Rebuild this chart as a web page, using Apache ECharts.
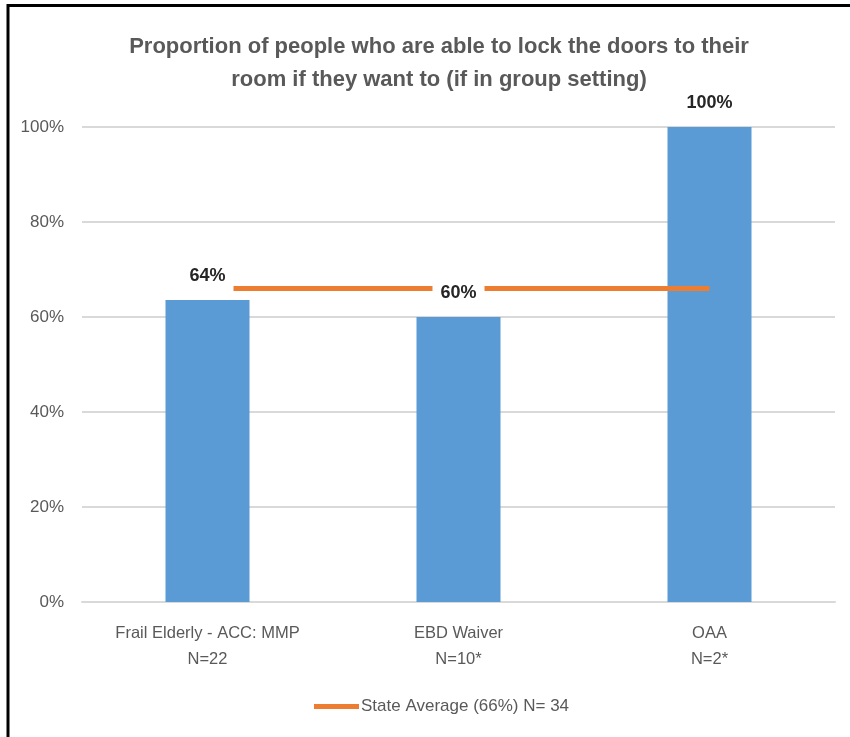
<!DOCTYPE html>
<html>
<head>
<meta charset="utf-8">
<script src="https://cdn.jsdelivr.net/npm/echarts@6/dist/echarts.min.js"></script>
<style>html,body{margin:0;padding:0;background:#fff;}#c{width:850px;height:737px;}</style>
</head>
<body>
<div id="c"></div>
<script>
const categories = ['Frail Elderly - ACC: MMP', 'EBD Waiver', 'OAA'];
const sampleSizes = ['N=22', 'N=10*', 'N=2*'];
const barValues = [63.6, 60, 100];
const stateAverage = [66, 66, 66];
const stateAverageName = 'State Average (66%) N= 34';
const titleText = 'Proportion of people who are able to lock the doors to their\nroom if they want to (if in group setting)';

const FONT = '"Liberation Sans", sans-serif';
const chart = echarts.init(document.getElementById('c'));
chart.setOption({
  animation: false,
  backgroundColor: '#fff',
  title: {
    text: titleText,
    left: 434, top: 25, textAlign: 'center',
    textStyle: { fontFamily: FONT, fontSize: 22, fontWeight: 'bold', color: '#595959', lineHeight: 33 }
  },
  legend: {
    data: [stateAverageName],
    bottom: 17, left: 309,
    icon: 'rect', itemWidth: 45, itemHeight: 5, itemGap: 2,
    textStyle: { fontFamily: FONT, fontSize: 17, color: '#595959', padding: [0, 0, 0, -3] }
  },
  grid: { left: 82, right: 15, top: 127, bottom: 135 },
  xAxis: {
    type: 'category',
    data: categories.map((c, i) => c + '\n' + sampleSizes[i]),
    axisLine: { lineStyle: { color: '#d9d9d9', width: 2 } },
    axisTick: { show: false },
    axisLabel: { fontFamily: FONT, fontSize: 16.5, color: '#595959', lineHeight: 26, margin: 18 }
  },
  yAxis: {
    type: 'value', min: 0, max: 100, interval: 20,
    axisLine: { show: false }, axisTick: { show: false },
    splitLine: { lineStyle: { color: '#d9d9d9', width: 2 } },
    axisLabel: { formatter: '{value}%', fontFamily: FONT, fontSize: 17, color: '#595959', margin: 18 }
  },
  series: [
    {
      name: 'Bars', type: 'bar', data: barValues, barWidth: 84, z: 2,
      itemStyle: { color: '#5B9BD5' }
    },
    {
      name: stateAverageName, type: 'line', data: stateAverage, z: 3,
      symbol: 'none', lineStyle: { color: '#ED7D31', width: 5 }, itemStyle: { color: '#ED7D31' }
    },
    {
      name: 'Labels', type: 'bar', data: barValues, barWidth: 84, barGap: '-100%', z: 10, silent: true,
      itemStyle: { color: 'rgba(0,0,0,0)' },
      label: {
        show: true, position: 'top', distance: 6,
        formatter: p => Math.round(p.value) + '%',
        fontFamily: FONT, fontSize: 18, fontWeight: 'bold', color: '#262626',
        backgroundColor: '#fff', padding: [5, 8, 9, 8]
      }
    }
  ],
  graphic: [
    { type: 'line', shape: { x1: 7, y1: 5.5, x2: 850, y2: 5.5 }, style: { stroke: '#000', lineWidth: 3 } },
    { type: 'line', shape: { x1: 8, y1: 4, x2: 8, y2: 737 }, style: { stroke: '#000', lineWidth: 3 } }
  ]
});
</script>
</body>
</html>
